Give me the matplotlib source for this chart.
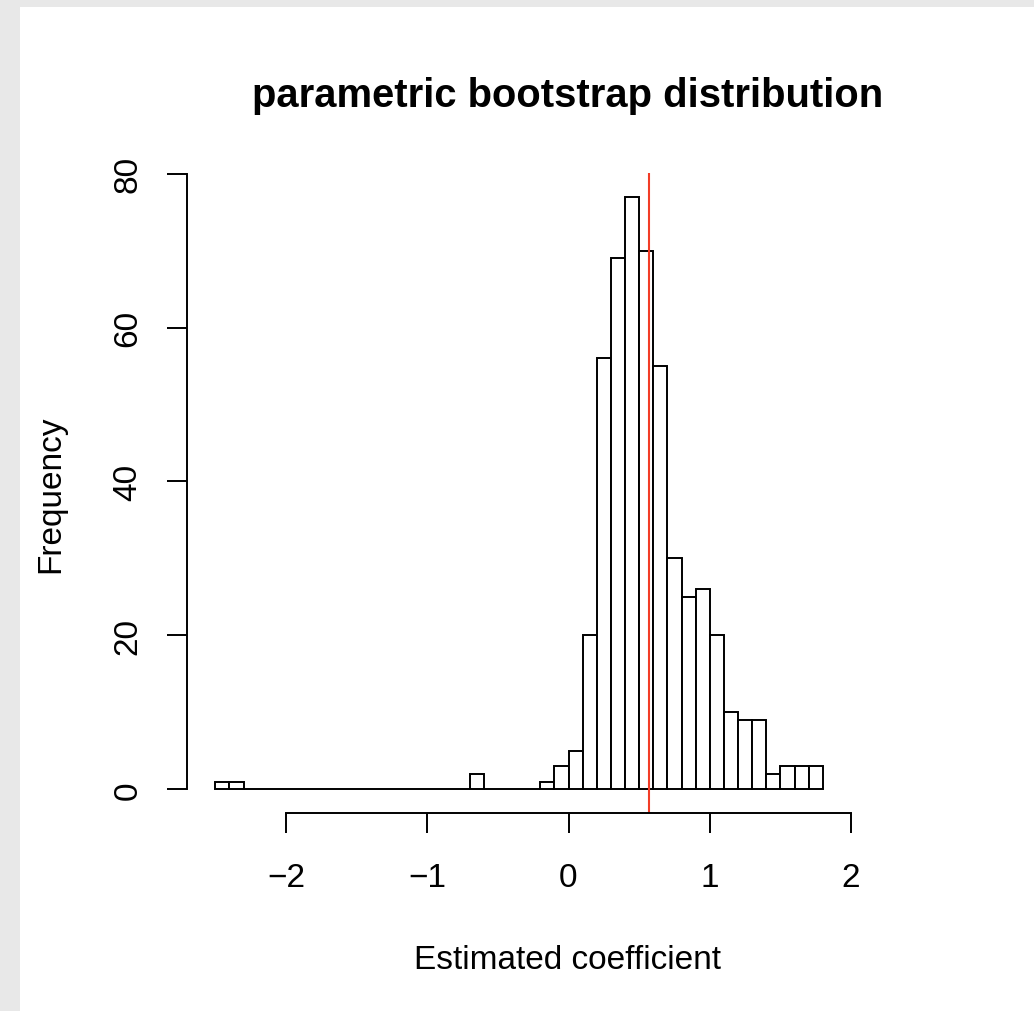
import matplotlib.pyplot as plt
from matplotlib.patches import Rectangle
import numpy as np

# histogram of the bootstrap estimates, bin width 0.1 from -2.5 to 1.8
bin_start = -2.5
bin_width = 0.1
counts = [1, 1, 0, 0, 0, 0, 0, 0, 0, 0, 0, 0, 0, 0, 0, 0, 0, 0,
          2, 0, 0, 0, 0, 1, 3, 5, 20, 56, 69, 77, 70, 55, 30, 25,
          26, 20, 10, 9, 9, 2, 3, 3, 3]
estimate = 0.573

x_ticks = [-2, -1, 0, 1, 2]
y_ticks = [0, 20, 40, 60, 80]

title = "parametric bootstrap distribution"
x_label = "Estimated coefficient"
y_label = "Frequency"

W, H = 1034, 1012
plt.rcParams['font.family'] = ['Liberation Sans', 'DejaVu Sans']

fig = plt.figure(figsize=(W / 100, H / 100), dpi=100)
fig.patch.set_facecolor('#e8e8e8')
fig.patches.append(Rectangle((20 / W, 0), 1, 1 - 8 / H, transform=fig.transFigure,
                             facecolor='white', edgecolor='none', zorder=-1))

# plot region in pixels: x 187..950, y 174..814 (from top)
ax = fig.add_axes([187 / W, 1 - 814 / H, (950 - 187) / W, (814 - 174) / H])
ax.set_facecolor('none')

lefts = bin_start + bin_width * np.arange(len(counts))
ax.bar(lefts, counts, width=bin_width, align='edge', facecolor='white',
       edgecolor='black', linewidth=1.4)
ax.axvline(estimate, color='#f23c26', linewidth=1.5)

ax.set_xlim(-2.7, 2.7)
ax.set_ylim(-0.04 * max(counts), 1.04 * max(counts))

for s in ['top', 'right']:
    ax.spines[s].set_visible(False)
ax.spines['left'].set_bounds(y_ticks[0], y_ticks[-1])
ax.spines['bottom'].set_bounds(x_ticks[0], x_ticks[-1])
for s in ['left', 'bottom']:
    ax.spines[s].set_linewidth(1.4)

ax.set_xticks(x_ticks)
ax.set_xticklabels(['\u2212' + str(-t) if t < 0 else str(t) for t in x_ticks])
ax.set_yticks(y_ticks)
ax.tick_params(axis='both', length=14.4, width=1.4, labelsize=24)
ax.tick_params(axis='x', pad=21)
ax.tick_params(axis='y', pad=17)
for lab in ax.get_yticklabels():
    lab.set_rotation(90)
    lab.set_va('center')

fig.text(568 / W, 1 - 107 / H, title, ha='center', va='baseline',
         fontsize=28.8, fontweight='bold')
fig.text(568 / W, 1 - 969 / H, x_label, ha='center', va='baseline', fontsize=24)
fig.text(59 / W, 1 - 494 / H, y_label, ha='center', va='baseline',
         rotation=90, rotation_mode='anchor', fontsize=24)

fig.savefig('out.png', dpi=100, facecolor=fig.get_facecolor())
